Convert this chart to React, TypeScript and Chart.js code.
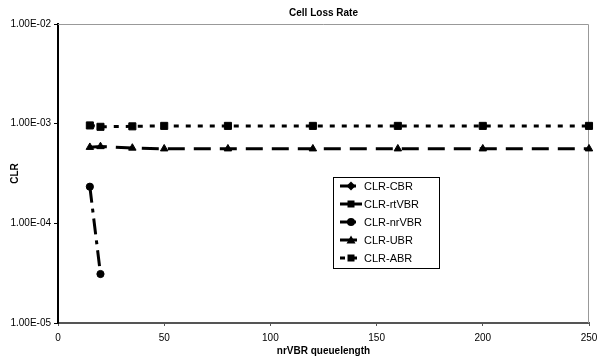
import React, { useEffect, useRef } from 'react';
import { Chart, registerables } from 'chart.js';

Chart.register(...registerables);

const chartTitle = 'Cell Loss Rate';
const xTitle = 'nrVBR queuelength';
const yTitle = 'CLR';

const seriesLabels = ['CLR-CBR', 'CLR-rtVBR', 'CLR-nrVBR', 'CLR-UBR', 'CLR-ABR'];

const xCBR: number[] = [];
const yCBR: number[] = [];
const xRtVBR: number[] = [];
const yRtVBR: number[] = [];
const xNrVBR = [15, 20];
const yNrVBR = [2.33e-4, 3.1e-5];
const xUBR = [15, 20, 35, 50, 80, 120, 160, 200, 250];
const yUBR = [5.8e-4, 5.9e-4, 5.7e-4, 5.6e-4, 5.6e-4, 5.6e-4, 5.6e-4, 5.6e-4, 5.6e-4];
const xABR = [15, 20, 35, 50, 80, 120, 160, 200, 250];
const yABR = [9.6e-4, 9.3e-4, 9.4e-4, 9.5e-4, 9.5e-4, 9.5e-4, 9.5e-4, 9.5e-4, 9.5e-4];

const xTicks = [0, 50, 100, 150, 200, 250];
const yTicks = [1e-5, 1e-4, 1e-3, 1e-2];

const FONT = "'Liberation Sans', Arial, sans-serif";

function fmtExp(v: number): string {
  const e = Math.round(Math.log10(v));
  const m = v / Math.pow(10, e);
  return m.toFixed(2) + 'E' + (e < 0 ? '-' : '+') + String(Math.abs(e)).padStart(2, '0');
}

function pts(xs: number[], ys: number[]) {
  return xs.map((x, i) => ({ x, y: ys[i] }));
}

function drawMarker(ctx: CanvasRenderingContext2D, style: string, x: number, y: number) {
  ctx.beginPath();
  if (style === 'rectRot') {
    ctx.moveTo(x, y - 4.5);
    ctx.lineTo(x + 4.5, y);
    ctx.lineTo(x, y + 4.5);
    ctx.lineTo(x - 4.5, y);
    ctx.closePath();
  } else if (style === 'rect') {
    ctx.rect(x - 3.5, y - 3.5, 7, 7);
  } else if (style === 'circle') {
    ctx.arc(x, y, 4, 0, Math.PI * 2);
  } else if (style === 'triangle') {
    ctx.moveTo(x, y - 4.5);
    ctx.lineTo(x + 4.5, y + 3.5);
    ctx.lineTo(x - 4.5, y + 3.5);
    ctx.closePath();
  }
  ctx.fill();
}

const decorPlugin = {
  id: 'decor',
  beforeDatasetsDraw(chart: any) {
    const { ctx, chartArea } = chart;
    ctx.save();
    ctx.strokeStyle = '#999';
    ctx.lineWidth = 1;
    ctx.beginPath();
    ctx.moveTo(chartArea.left, chartArea.top + 0.5);
    ctx.lineTo(chartArea.right - 0.5, chartArea.top + 0.5);
    ctx.lineTo(chartArea.right - 0.5, chartArea.bottom);
    ctx.stroke();
    ctx.restore();
  },
  afterDraw(chart: any) {
    const { ctx, chartArea } = chart;
    ctx.save();
    // title
    ctx.fillStyle = '#000';
    ctx.font = `bold 10px ${FONT}`;
    ctx.textAlign = 'center';
    ctx.textBaseline = 'middle';
    ctx.fillText(chartTitle, (chartArea.left + chartArea.right) / 2, 13);

    // legend
    const bx = 333, by = 177, bw = 106, bh = 91;
    ctx.fillStyle = '#fff';
    ctx.fillRect(bx, by, bw, bh);
    ctx.strokeStyle = '#000';
    ctx.lineWidth = 1;
    ctx.strokeRect(bx + 0.5, by + 0.5, bw, bh);
    chart.data.datasets.forEach((ds: any, i: number) => {
      const y = 186 + i * 18;
      ctx.strokeStyle = '#000';
      ctx.lineWidth = ds.borderWidth;
      ctx.setLineDash(ds.borderDash || []);
      ctx.beginPath();
      ctx.moveTo(340, y);
      ctx.lineTo(362, y);
      ctx.stroke();
      ctx.setLineDash([]);
      ctx.fillStyle = '#000';
      drawMarker(ctx, ds.pointStyle, 351, y);
      ctx.font = `11px ${FONT}`;
      ctx.textAlign = 'left';
      ctx.textBaseline = 'middle';
      ctx.fillText(ds.label, 364, y + 0.5);
    });
    ctx.restore();
  },
};

export default function App() {
  const ref = useRef<HTMLCanvasElement | null>(null);

  useEffect(() => {
    if (!ref.current) return;
    const mk = (label: string, data: any[], pointStyle: string, radius: number, dash: number[]) => ({
      label,
      data,
      borderColor: '#000',
      backgroundColor: '#000',
      borderWidth: 3,
      borderDash: dash,
      pointStyle,
      pointRadius: radius,
      pointBorderWidth: 1,
      pointBackgroundColor: '#000',
      pointBorderColor: '#000',
      tension: 0,
      clip: false,
    });
    const chart = new Chart(ref.current, {
      type: 'line',
      data: {
        datasets: [
          mk(seriesLabels[0], pts(xCBR, yCBR), 'rectRot', 4.5, [16, 6, 4, 6]),
          mk(seriesLabels[1], pts(xRtVBR, yRtVBR), 'rect', 5, []),
          mk(seriesLabels[2], pts(xNrVBR, yNrVBR), 'circle', 3.6, [16, 6, 4, 6]),
          mk(seriesLabels[3], pts(xUBR, yUBR), 'triangle', 4.3, [17, 9]),
          mk(seriesLabels[4], pts(xABR, yABR), 'rect', 5, [5, 7]),
        ] as any,
      },
      options: {
        responsive: false,
        animation: false,
        layout: { padding: { top: 24, right: 15, bottom: 0, left: 0 } },
        plugins: {
          legend: { display: false },
          title: { display: false },
          tooltip: { enabled: false },
        },
        scales: {
          x: {
            type: 'linear',
            min: 0,
            max: 250,
            afterBuildTicks: (s: any) => {
              s.ticks = xTicks.map((v) => ({ value: v }));
            },
            afterFit: (s: any) => {
              s.height = 39;
            },
            grid: { drawOnChartArea: false, drawTicks: true, tickLength: 3, color: '#555' },
            border: { display: true, color: '#555', width: 2 },
            ticks: { color: '#000', padding: 6, font: { family: FONT, size: 10 }, maxRotation: 0 },
            title: {
              display: true,
              text: xTitle,
              color: '#000',
              font: { family: FONT, size: 10, weight: 'bold' },
              padding: { top: 0, bottom: 5 },
            },
          },
          y: {
            type: 'logarithmic',
            min: 1e-5,
            max: 1e-2,
            afterBuildTicks: (s: any) => {
              s.ticks = yTicks.map((v) => ({ value: v }));
            },
            afterFit: (s: any) => {
              s.width = 58;
            },
            grid: { drawOnChartArea: false, drawTicks: true, tickLength: 4, color: '#000' },
            border: { display: true, color: '#000', width: 2 },
            ticks: {
              color: '#000',
              padding: 3,
              font: { family: FONT, size: 10 },
              callback: (v: any) => fmtExp(Number(v)),
            },
            title: {
              display: true,
              text: yTitle,
              color: '#000',
              font: { family: FONT, size: 10, weight: 'bold' },
              padding: { top: 9, bottom: 0 },
            },
          },
        },
      } as any,
      plugins: [decorPlugin],
    });
    return () => chart.destroy();
  }, []);

  return (
    <div style={{ position: 'absolute', left: 0, top: 0, width: 604, height: 362, background: '#fff' }}>
      <canvas ref={ref} width={604} height={362} />
    </div>
  );
}
